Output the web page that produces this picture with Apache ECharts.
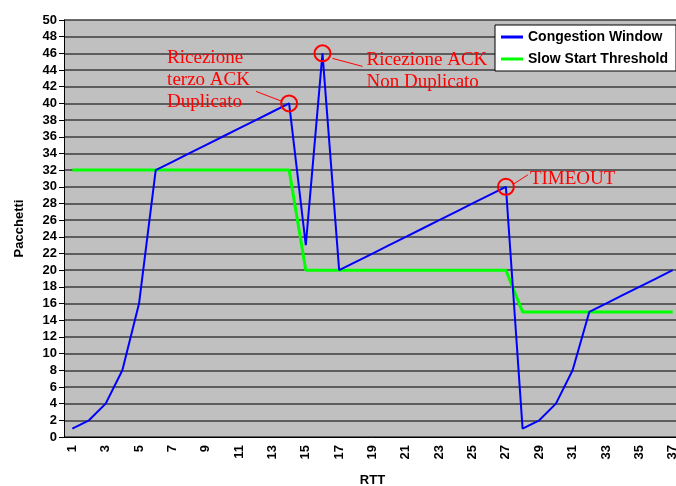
<!DOCTYPE html>
<html>
<head>
<meta charset="utf-8">
<script src="https://cdn.jsdelivr.net/npm/echarts@6/dist/echarts.min.js"></script>
<style>html,body{margin:0;padding:0;background:#fff;overflow:hidden}#c{width:681px;height:486px}</style>
</head>
<body>
<div id="c"></div>
<script>
const rtt = ['1','2','3','4','5','6','7','8','9','10','11','12','13','14','15','16','17','18','19','20','21','22','23','24','25','26','27','28','29','30','31','32','33','34','35','36','37'];
const congestionWindow = [1,2,4,8,16,32,33,34,35,36,37,38,39,40,23,46,20,21,22,23,24,25,26,27,28,29,30,1,2,4,8,15,16,17,18,19,20];
const slowStartThreshold = [32,32,32,32,32,32,32,32,32,32,32,32,32,32,20,20,20,20,20,20,20,20,20,20,20,20,20,15,15,15,15,15,15,15,15,15,15];
const yTicks = {min: 0, max: 50, interval: 2};
const annotations = [
  {index: 13, text: 'Ricezione\nterzo ACK\nDuplicato'},
  {index: 15, text: 'Ricezione ACK\nNon Duplicato'},
  {index: 26, text: 'TIMEOUT'}
];

const chart = echarts.init(document.getElementById('c'), null, {renderer: 'canvas'});
const sansBold = {fontFamily: 'Liberation Sans', fontWeight: 'bold', fontSize: 13, color: '#000'};

chart.setOption({
  animation: false,
  backgroundColor: '#fff',
  grid: {left: 64, top: 20, bottom: 49, right: 0, show: true, backgroundColor: '#c0c0c0', borderWidth: 0,
         containLabel: false, outerBoundsMode: 'none'},
  legend: {
    orient: 'vertical', left: 495, top: 25,
    backgroundColor: '#fff', borderColor: '#000', borderWidth: 1,
    padding: [5, 8, 5, 6], itemGap: 8, itemWidth: 22, itemHeight: 3,
    textStyle: {fontFamily: 'Liberation Sans', fontWeight: 'bold', fontSize: 14, color: '#000'},
    data: [
      {name: 'Congestion Window', icon: 'rect'},
      {name: 'Slow Start Threshold', icon: 'rect'}
    ]
  },
  xAxis: {
    type: 'category', data: rtt, boundaryGap: true,
    name: 'RTT', nameLocation: 'middle', nameGap: 37,
    nameTextStyle: sansBold,
    axisLine: {lineStyle: {color: '#000', width: 1}},
    axisTick: {interval: 0, length: 5, lineStyle: {color: '#000'}},
    axisLabel: Object.assign({interval: 1, rotate: 90, margin: 8}, sansBold),
    splitLine: {show: false}
  },
  yAxis: {
    type: 'value', min: yTicks.min, max: yTicks.max, interval: yTicks.interval,
    name: 'Pacchetti', nameLocation: 'middle', nameGap: 38,
    nameTextStyle: sansBold,
    axisLine: {show: true, lineStyle: {color: '#000', width: 1}},
    axisTick: {show: true, length: 5, lineStyle: {color: '#000'}},
    axisLabel: Object.assign({margin: 7}, sansBold),
    splitLine: {show: true, lineStyle: {color: '#3c3c3c', width: 1.5}}
  },
  series: [
    {
      name: 'Congestion Window', type: 'line', data: congestionWindow,
      showSymbol: false, symbol: 'none', z: 3,
      lineStyle: {color: '#0000ff', width: 2}, itemStyle: {color: '#0000ff'},
      markPoint: {
        symbol: 'circle', symbolSize: 16, silent: true,
        itemStyle: {color: 'rgba(0,0,0,0)', borderColor: '#ff0000', borderWidth: 2},
        label: {show: false},
        data: annotations.map(a => ({coord: [a.index, congestionWindow[a.index]]}))
      }
    },
    {
      name: 'Slow Start Threshold', type: 'line', data: slowStartThreshold,
      showSymbol: false, symbol: 'none', z: 2,
      lineStyle: {color: '#00ff00', width: 3}, itemStyle: {color: '#00ff00'}
    }
  ]
});

// Annotation texts & leader lines, positioned relative to their data points
const offsets = [
  {tx: -122, ty: -23, line: [[-33, -12], [-7, -2]]},
  {tx: 44, ty: 18, line: [[10, 5], [40, 13]]},
  {tx: 24, ty: -8, line: [[8, -3], [22, -12]]}
];
const font = '19px "Liberation Serif"';
const graphics = [];
annotations.forEach((a, i) => {
  const p = chart.convertToPixel({seriesIndex: 0}, [a.index, congestionWindow[a.index]]);
  const o = offsets[i];
  graphics.push({
    type: 'text', x: p[0] + o.tx, y: p[1] + o.ty, z: 10,
    style: {text: a.text, fill: '#ff0000', font: font, lineHeight: 22, textAlign: 'left', textVerticalAlign: 'middle'}
  });
  graphics.push({
    type: 'line', z: 10,
    shape: {x1: p[0] + o.line[0][0], y1: p[1] + o.line[0][1], x2: p[0] + o.line[1][0], y2: p[1] + o.line[1][1]},
    style: {stroke: '#ff0000', lineWidth: 1}
  });
});
chart.setOption({graphic: graphics});
</script>
</body>
</html>
